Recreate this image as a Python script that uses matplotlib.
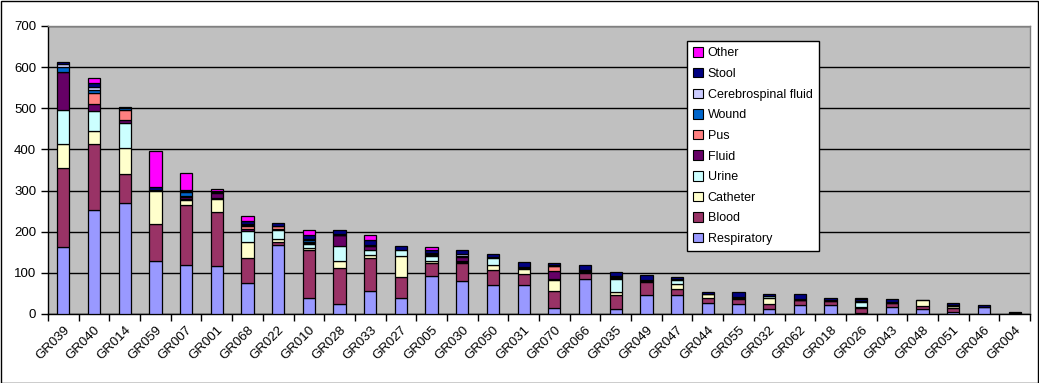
import matplotlib
matplotlib.use("Agg")
import matplotlib.pyplot as plt
from matplotlib.patches import Rectangle, Patch
import numpy as np

categories = ["GR039", "GR040", "GR014", "GR059", "GR007", "GR001", "GR068", "GR022",
              "GR010", "GR028", "GR033", "GR027", "GR005", "GR030", "GR050", "GR031",
              "GR070", "GR066", "GR035", "GR049", "GR047", "GR044", "GR055", "GR032",
              "GR062", "GR018", "GR026", "GR043", "GR048", "GR051", "GR046", "GR004"]

respiratory = [164, 253, 271, 129, 120, 116, 75, 168, 39, 25, 57, 39, 93, 81, 71, 71,
               15, 85, 12, 45, 45, 27, 24, 12, 23, 23, 2, 16, 12, 4, 16, 0]
blood = [190, 160, 70, 90, 145, 133, 61, 8, 117, 87, 79, 52, 31, 43, 36, 27,
         42, 15, 33, 32, 16, 13, 13, 12, 10, 8, 12, 10, 8, 10, 0, 2]
catheter = [59, 32, 62, 80, 12, 31, 40, 6, 4, 18, 8, 49, 5, 2, 12, 11,
            25, 2, 8, 3, 13, 8, 1, 16, 1, 1, 2, 1, 13, 5, 0, 0]
urine = [83, 49, 61, 0, 3, 3, 25, 22, 10, 36, 12, 16, 12, 2, 18, 4,
         4, 3, 32, 1, 9, 0, 1, 3, 1, 0, 14, 0, 0, 1, 0, 0]
fluid = [92, 17, 8, 3, 5, 11, 6, 3, 3, 25, 9, 0, 2, 10, 1, 2,
         18, 2, 2, 2, 1, 1, 0, 1, 1, 1, 2, 1, 0, 1, 1, 0]
pus = [1, 27, 24, 0, 3, 2, 8, 7, 1, 1, 1, 0, 4, 2, 0, 0,
       12, 0, 2, 0, 0, 0, 0, 0, 0, 0, 0, 0, 0, 0, 0, 0]
wound = [11, 7, 4, 0, 9, 0, 2, 1, 6, 1, 1, 0, 1, 2, 0, 0,
         1, 0, 3, 0, 0, 0, 2, 0, 0, 0, 0, 0, 0, 0, 0, 0]
csf = [8, 7, 0, 0, 2, 0, 2, 0, 2, 1, 1, 0, 1, 3, 0, 0,
       1, 0, 1, 0, 0, 0, 0, 0, 0, 0, 0, 0, 0, 0, 0, 0]
stool = [4, 9, 4, 6, 2, 3, 8, 6, 10, 10, 12, 10, 6, 11, 8, 12,
         6, 13, 9, 12, 7, 5, 13, 5, 13, 7, 4, 8, 2, 6, 5, 3]
other = [0, 12, 0, 87, 41, 4, 10, 0, 12, 0, 13, 0, 7, 0, 0, 0,
         0, 0, 0, 0, 0, 0, 0, 0, 0, 0, 3, 0, 0, 0, 0, 0]

series_names = ["Respiratory", "Blood", "Catheter", "Urine", "Fluid", "Pus",
                "Wound", "Cerebrospinal fluid", "Stool", "Other"]
series_values = [respiratory, blood, catheter, urine, fluid, pus, wound, csf, stool, other]
series_colors = ["#9999FF", "#993366", "#FFFFCC", "#CCFFFF", "#660066", "#FF8080",
                 "#0066CC", "#CCCCFF", "#000080", "#FF00FF"]

plt.rcParams['font.family'] = ['Liberation Sans', 'DejaVu Sans']

W, H = 1039, 383
fig = plt.figure(figsize=(W / 100, H / 100), dpi=100)
fig.patch.set_facecolor("white")
ax = fig.add_axes([48 / W, 1 - 314 / H, (1030 - 48) / W, (314 - 26) / H])
ax.set_facecolor("#C0C0C0")

x = np.arange(len(categories))
bottom = np.zeros(len(categories))
for name, vals, col in zip(series_names, series_values, series_colors):
    v = np.array(vals, dtype=float)
    mask = v > 0
    ax.bar(x[mask], v[mask], bottom=bottom[mask], width=0.4, color=col,
           edgecolor="black", linewidth=0.9, zorder=3)
    bottom += v

ax.set_xlim(-0.5, len(categories) - 0.5)
ax.set_ylim(0, 700)
ax.set_yticks(np.arange(0, 701, 100))
ax.yaxis.grid(True, color="black", linewidth=1.0, zorder=1)
ax.set_axisbelow(True)

ax.set_xticks(x)
ax.set_xticklabels(categories, rotation=45, ha="right", rotation_mode="anchor", fontsize=9.5)
ax.tick_params(axis="x", which="major", length=0, pad=7)
ax.set_xticks(np.arange(-0.5, len(categories), 1.0), minor=True)
ax.tick_params(axis="x", which="minor", length=5, width=1, direction="out", color="black")
ax.tick_params(axis="y", labelsize=9.5, length=5, width=1, direction="out")

for s in ["left", "bottom"]:
    ax.spines[s].set_color("black")
    ax.spines[s].set_linewidth(1)
for s in ["top", "right"]:
    ax.spines[s].set_color("#808080")
    ax.spines[s].set_linewidth(1)

handles = [Patch(facecolor=c, edgecolor="black", linewidth=0.8, label=n)
           for n, c in zip(series_names, series_colors)][::-1]
leg = ax.legend(handles=handles, loc="upper left",
                bbox_to_anchor=(687 / W, 1 - 41 / H), bbox_transform=fig.transFigure,
                fontsize=9, frameon=True, fancybox=False, shadow=False,
                handlelength=0.8, handleheight=0.8, handletextpad=0.35,
                labelspacing=0.68, borderpad=0.5, borderaxespad=0)
leg.get_frame().set_edgecolor("black")
leg.get_frame().set_linewidth(1)
leg.get_frame().set_alpha(1)
leg.set_zorder(10)

fig.add_artist(Rectangle((0.5 / W, 0.5 / H), 1 - 1.5 / W, 1 - 1.5 / H, transform=fig.transFigure,
                         fill=False, edgecolor="black", linewidth=1))

fig.savefig("out.png", dpi=100)
